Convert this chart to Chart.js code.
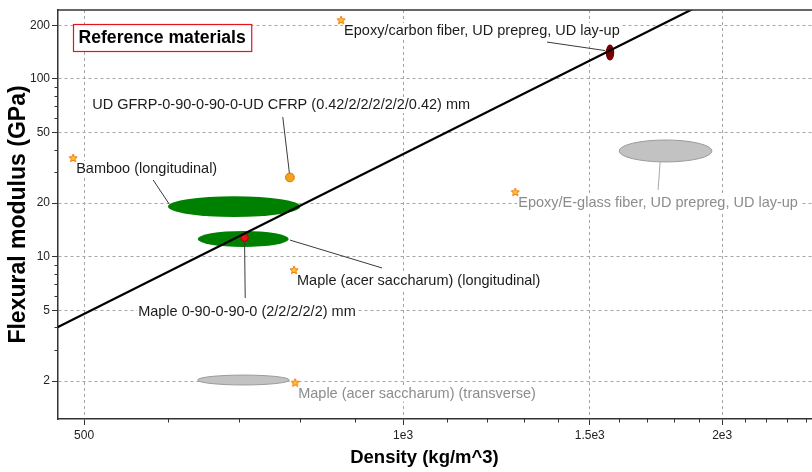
<!DOCTYPE html>
<html><head><meta charset="utf-8">
<script src="https://cdn.jsdelivr.net/npm/chart.js@4.4.1/dist/chart.umd.min.js"></script>
<style>html,body{margin:0;padding:0;background:#fff;overflow:hidden}#wrap{position:relative;width:812px;height:472px}</style>
</head><body><div id="wrap"><canvas id="c"></canvas></div>
<script>
// ---- axes ----
const densityRange = [472.5, 2431];
const densityTicks = [500, 1000, 1500, 2000];
const densityTickLabels = ['500', '1e3', '1.5e3', '2e3'];
const densityMinorTicks = [600, 700, 800, 900, 1100, 1200, 1300, 1400, 1600, 1700, 1800, 1900, 2100, 2200, 2300, 2400];
const modulusRange = [1.223, 243.8];
const modulusTicks = [2, 5, 10, 20, 50, 100, 200];
const modulusTickLabels = ['2', '5', '10', '20', '50', '100', '200'];
const modulusMinorTicks = [3, 4, 6, 7, 8, 9, 30, 40, 60, 70, 80, 90];
const xTitle = 'Density (kg/m^3)';
const yTitle = 'Flexural modulus (GPa)';

// ---- reference material property ranges (density kg/m^3, flexural modulus GPa) ----
const rangeNames = ['Bamboo (longitudinal)', 'Maple (acer saccharum) (longitudinal)', 'Epoxy/E-glass fiber, UD prepreg, UD lay-up', 'Maple (acer saccharum) (transverse)', 'Epoxy/carbon fiber, UD prepreg, UD lay-up'];
const rangeDensityMin = [600, 640, 1599, 640, 1553];
const rangeDensityMax = [800, 780, 1956, 781, 1582];
const rangeModulusMin = [16.7, 11.34, 34.1, 1.90, 126.7];
const rangeModulusMax = [21.9, 13.95, 45.3, 2.16, 155.9];

// ---- tested laminates ----
const sampleNames = ['UD GFRP-0-90-0-90-0-UD CFRP (0.42/2/2/2/2/2/0.42) mm', 'Maple 0-90-0-90-0 (2/2/2/2/2) mm'];
const sampleDensity = [782, 708.6];
const sampleModulus = [27.9, 12.8];

// ---- guideline ----
const guideDensity = [450, 2000];
const guideModulus = [3.48, 298.8];

// ---- labels (anchor = top-left corner of label) ----
const labelTexts = ['Epoxy/carbon fiber, UD prepreg, UD lay-up', 'Bamboo (longitudinal)', 'Maple (acer saccharum) (longitudinal)', 'Epoxy/E-glass fiber, UD prepreg, UD lay-up', 'Maple (acer saccharum) (transverse)', 'UD GFRP-0-90-0-90-0-UD CFRP (0.42/2/2/2/2/2/0.42) mm', 'Maple 0-90-0-90-0 (2/2/2/2/2) mm'];
const labelDensity = [874, 488.3, 789, 1276, 791, 505.6, 558.7];
const labelModulus = [214, 35.9, 8.42, 23.1, 1.96, 82.2, 5.66];
const labelHasStar = [true, true, true, true, true, false, false];
const labelMuted = [false, false, false, true, true, false, false];

// ---- leader lines ----
const leaderFromDensity = [1367, 770, 581, 782, 708.6, 1748];
const leaderFromModulus = [161, 61.0, 27.0, 12.4, 12.8, 34.5];
const leaderToDensity = [1551, 782, 601.5, 955.4, 709.6, 1740];
const leaderToModulus = [144.2, 27.9, 19.8, 8.64, 5.86, 23.7];
const leaderMuted = [false, false, false, false, false, true];

const FONT = '"Liberation Sans", Arial, sans-serif';
const rangeStyle = [
  {fill: '#008000'}, {fill: '#008000'},
  {fill: '#c2c2c2', stroke: '#9a9a9a'}, {fill: '#c2c2c2', stroke: '#9a9a9a'},
  {fill: '#7a0000'}
];

// star marker image
const starImg = document.createElement('canvas');
starImg.width = 10; starImg.height = 10;
(function(){
  const c = starImg.getContext('2d');
  c.beginPath();
  for (let i = 0; i < 10; i++) {
    const r = i % 2 === 0 ? 4.3 : 1.9;
    const a = -Math.PI / 2 + i * Math.PI / 5;
    const px = 5 + r * Math.cos(a), py = 5.3 + r * Math.sin(a);
    if (i === 0) c.moveTo(px, py); else c.lineTo(px, py);
  }
  c.closePath();
  c.fillStyle = '#ffc23a'; c.fill();
  c.strokeStyle = '#f07800'; c.lineWidth = 1; c.stroke();
})();

const datasets = [];
datasets.push({type: 'line', data: guideDensity.map((d, i) => ({x: d, y: guideModulus[i]})), borderColor: '#000', borderWidth: 2.2, pointRadius: 0, order: 0});
leaderFromDensity.forEach((d, i) => {
  datasets.push({type: 'line', data: [{x: d, y: leaderFromModulus[i]}, {x: leaderToDensity[i], y: leaderToModulus[i]}], borderColor: leaderMuted[i] ? '#a8a8a8' : '#3a3a3a', borderWidth: 1, pointRadius: 0, order: 5});
});
datasets.push({type: 'scatter', data: sampleDensity.map((d, i) => ({x: d, y: sampleModulus[i]})), pointRadius: [4.4, 3.8], pointBackgroundColor: ['#f4a21c', '#e8101a'], pointBorderColor: ['#d07a00', '#b00000'], pointBorderWidth: 1, order: 1});
datasets.push({type: 'scatter', data: labelDensity.map((d, i) => labelHasStar[i] ? {x: d, y: labelModulus[i]} : null).filter(Boolean), pointStyle: starImg, order: -1});

const annot = {
  id: 'annot',
  beforeDatasetsDraw(chart) {
    const {ctx, chartArea: ca, scales: {x, y}} = chart;
    ctx.save();
    ctx.beginPath(); ctx.rect(ca.left, ca.top, ca.right - ca.left, ca.bottom - ca.top); ctx.clip();
    for (let i = 0; i < rangeNames.length; i++) {
      const x0 = x.getPixelForValue(rangeDensityMin[i]), x1 = x.getPixelForValue(rangeDensityMax[i]);
      const y0 = y.getPixelForValue(rangeModulusMax[i]), y1 = y.getPixelForValue(rangeModulusMin[i]);
      ctx.beginPath();
      ctx.ellipse((x0 + x1) / 2, (y0 + y1) / 2, (x1 - x0) / 2, (y1 - y0) / 2, 0, 0, Math.PI * 2);
      ctx.fillStyle = rangeStyle[i].fill; ctx.fill();
      if (rangeStyle[i].stroke) { ctx.strokeStyle = rangeStyle[i].stroke; ctx.lineWidth = 1; ctx.stroke(); }
    }
    ctx.font = '14.5px ' + FONT;
    ctx.textBaseline = 'middle';
    ctx.textAlign = 'left';
    for (let i = 0; i < labelTexts.length; i++) {
      const ax = x.getPixelForValue(labelDensity[i]), ay = y.getPixelForValue(labelModulus[i]);
      const tx = ax + 3, ty = ay + 11;
      const w = ctx.measureText(labelTexts[i]).width;
      ctx.fillStyle = '#fff';
      ctx.fillRect(tx - 1, ty - 8, w + 3, 16);
      ctx.fillStyle = labelMuted[i] ? '#8c8c8c' : '#1c1c1c';
      ctx.fillText(labelTexts[i], tx, ty);
    }
    const bx = ca.left + 15, by = ca.top + 14;
    ctx.font = 'bold 17.6px ' + FONT;
    const bw = ctx.measureText('Reference materials').width + 11;
    ctx.fillStyle = '#fff'; ctx.fillRect(bx, by, bw, 28);
    ctx.strokeStyle = '#e8121c'; ctx.lineWidth = 1.2; ctx.strokeRect(bx + 0.5, by + 0.5, bw, 27);
    ctx.fillStyle = '#000'; ctx.fillText('Reference materials', bx + 5.5, by + 14.5);
    ctx.restore();
  },
  afterDraw(chart) {
    const {ctx, chartArea: ca, scales: {x, y}} = chart;
    ctx.save();
    ctx.strokeStyle = '#333'; ctx.lineWidth = 1.5;
    ctx.beginPath(); ctx.moveTo(ca.left, ca.top); ctx.lineTo(ca.right, ca.top); ctx.stroke();
    ctx.lineWidth = 1;
    ctx.beginPath();
    densityMinorTicks.forEach(v => { const p = Math.round(x.getPixelForValue(v)) + 0.5; ctx.moveTo(p, ca.bottom); ctx.lineTo(p, ca.bottom + 3.5); });
    modulusMinorTicks.forEach(v => { const p = Math.round(y.getPixelForValue(v)) + 0.5; ctx.moveTo(ca.left - 3.5, p); ctx.lineTo(ca.left, p); });
    ctx.stroke();
    ctx.font = 'bold 18.5px ' + FONT;
    ctx.fillStyle = '#000'; ctx.textAlign = 'center'; ctx.textBaseline = 'middle';
    ctx.fillText(xTitle, (ca.left + ca.right) / 2 - 10.5, 458);
    ctx.restore();
  }
};

new Chart(document.getElementById('c'), {
  data: {datasets},
  options: {
    responsive: true, maintainAspectRatio: false, animation: false,
    layout: {autoPadding: false, padding: {top: 10, left: 0, right: 0, bottom: 0}},
    plugins: {legend: {display: false}, tooltip: {enabled: false}},
    scales: {
      x: {
        type: 'logarithmic', min: densityRange[0], max: densityRange[1],
        afterFit: s => { s.height = 53; s.paddingRight = 0; s.paddingLeft = 0; },
        afterBuildTicks: s => { s.ticks = densityTicks.map(v => ({value: v})); },
        ticks: {autoSkip: false, maxRotation: 0, padding: 3, color: '#222', font: {family: FONT, size: 12},
          callback: (v) => densityTickLabels[densityTicks.indexOf(v)] ?? ''},
        grid: {color: '#a6a6a6', lineWidth: 1, tickColor: '#333', tickLength: 6},
        border: {color: '#333', width: 1.5, dash: [3, 3]},
        title: {display: false, text: xTitle}
      },
      y: {
        type: 'logarithmic', min: modulusRange[0], max: modulusRange[1],
        afterFit: s => { s.width = 58; s.paddingTop = 0; s.paddingBottom = 0; },
        afterBuildTicks: s => { s.ticks = modulusTicks.map(v => ({value: v})); },
        ticks: {autoSkip: false, padding: 2, color: '#222', font: {family: FONT, size: 12},
          callback: (v) => modulusTickLabels[modulusTicks.indexOf(v)] ?? ''},
        grid: {color: '#a6a6a6', lineWidth: 1, tickColor: '#333', tickLength: 6},
        border: {color: '#333', width: 1.5, dash: [3, 3]},
        title: {display: true, text: yTitle, color: '#000', font: {family: FONT, size: 23, weight: 'bold'}, padding: {top: 4.5, bottom: 0}}
      }
    }
  },
  plugins: [annot]
});
</script></body></html>
